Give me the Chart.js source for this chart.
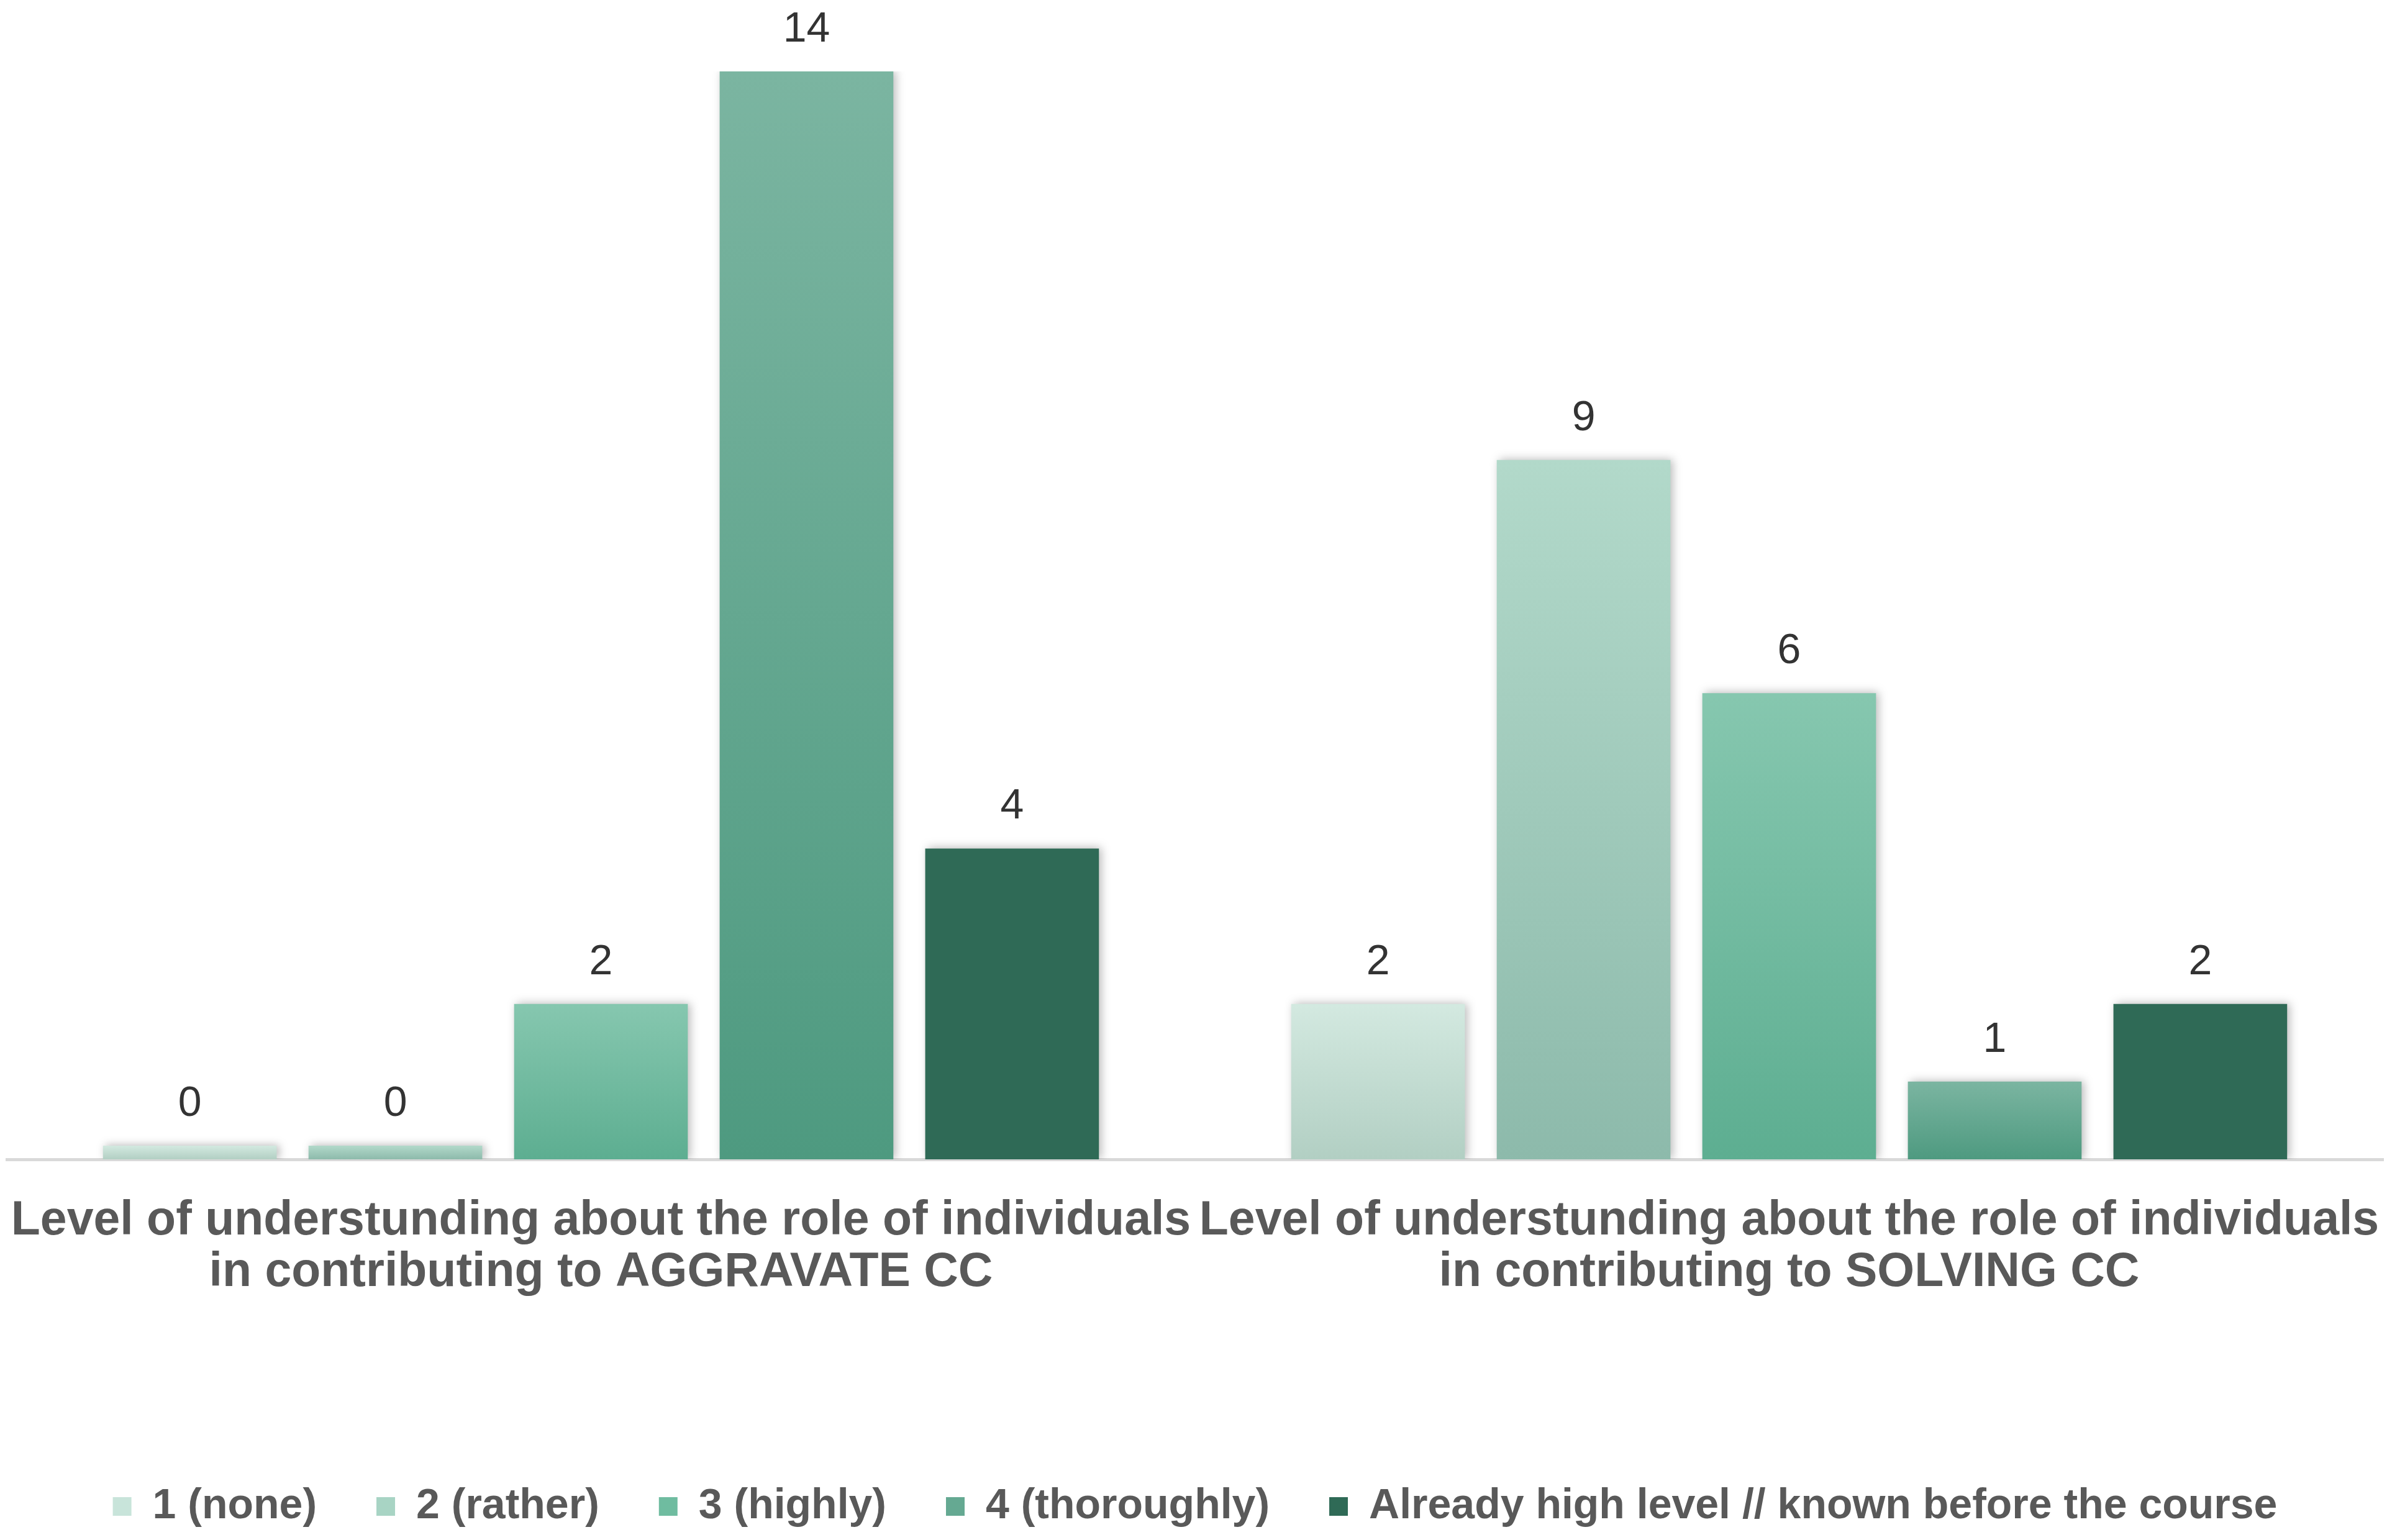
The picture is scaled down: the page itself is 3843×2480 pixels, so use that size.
<!DOCTYPE html>
<html lang="en">
<head>
    <meta charset="UTF-8">
    <title>Understanding of individuals' role in CC</title>
    <script src="https://cdn.jsdelivr.net/npm/chart.js"></script>
    <style>
        * { box-sizing: border-box; margin: 0; padding: 0; }
        body { background: #fff; }
        .wrap { width: 3843px; height: 2480px; position: relative; }
    </style>
</head>
<body>
<div class="wrap"><canvas id="chart"></canvas></div>
<script>
    // categories (two lines each, as in the original)
    const categories = [
        ['Level of understunding about the role of individuals', 'in contributing to AGGRAVATE CC'],
        ['Level of understunding about the role of individuals', 'in contributing to SOLVING CC']
    ];
    const seriesNames = ['1 (none)', '2 (rather)', '3 (highly)', '4 (thoroughly)', 'Already high level // known before the course'];
    const aggravateValues = [0, 0, 2, 14, 4];
    const solvingValues = [2, 9, 6, 1, 2];

    // bar gradient colours, top -> bottom
    const topColors = ['#d3e9e0', '#b2d9ca', '#86c7af', '#7bb5a1', '#2f6a56'];
    const bottomColors = ['#b2cfc3', '#8dbaab', '#5dae91', '#4e9a80', '#2f6a56'];
    const legendColors = ['#c8e4da', '#a8d4c4', '#6fbca0', '#65a992', '#2f6a56'];

    const FONT = "'Liberation Sans', Arial, sans-serif";

    function barFill(i) {
        return function (ctx) {
            const chart = ctx.chart;
            const y = chart.scales.y;
            if (!chart.chartArea || !y || ctx.raw === undefined) return topColors[i];
            const y0 = y.getPixelForValue(0);
            let y1 = y.getPixelForValue(ctx.raw);
            if (y0 - y1 < 22) y1 = y0 - 22;
            const g = chart.ctx.createLinearGradient(0, y1, 0, y0);
            g.addColorStop(0, topColors[i]);
            g.addColorStop(1, bottomColors[i]);
            return g;
        };
    }

    const datasets = seriesNames.map((name, i) => ({
        label: name,
        data: [aggravateValues[i], solvingValues[i]],
        backgroundColor: barFill(i),
        borderWidth: 0,
        minBarLength: 22,
        categoryPercentage: 0.865,
        barPercentage: 0.845
    }));

    // soft shadow under bars + value labels on top
    const barDecor = {
        id: 'barDecor',
        beforeDatasetsDraw(chart) {
            const c = chart.ctx;
            c.save();
            c.shadowColor = 'rgba(0,0,0,0.28)';
            c.shadowBlur = 14;
            c.shadowOffsetX = 4;
            c.shadowOffsetY = -1;
        },
        afterDatasetsDraw(chart) {
            const c = chart.ctx;
            c.restore();
            c.save();
            c.font = '68px ' + FONT;
            c.fillStyle = '#333333';
            c.textAlign = 'center';
            c.textBaseline = 'alphabetic';
            chart.data.datasets.forEach((ds, i) => {
                chart.getDatasetMeta(i).data.forEach((bar, j) => {
                    c.fillText(String(ds.data[j]), bar.x, bar.y - 48);
                });
            });
            c.restore();
        }
    };

    new Chart(document.getElementById('chart'), {
        type: 'bar',
        data: { labels: categories, datasets: datasets },
        options: {
            responsive: true,
            maintainAspectRatio: false,
            devicePixelRatio: 1,
            animation: false,
            layout: { padding: { top: 115, left: 11, right: 6, bottom: 10 } },
            scales: {
                x: {
                    grid: { display: false },
                    border: { color: '#d9d9d9', width: 5 },
                    ticks: {
                        autoSkip: false,
                        maxRotation: 0,
                        minRotation: 0,
                        padding: 50,
                        color: '#595959',
                        font: { family: FONT, size: 77, weight: 'bold', lineHeight: 1.08 }
                    },
                    afterFit(scale) {
                        scale.height = 429;
                        // wide labels may touch, keep the plot full width
                        scale.paddingLeft = 0;
                        scale.paddingRight = 0;
                    }
                },
                y: {
                    display: false,
                    min: 0,
                    max: 14
                }
            },
            plugins: {
                tooltip: { enabled: false },
                legend: {
                    position: 'bottom',
                    labels: {
                        boxWidth: 30,
                        boxHeight: 30,
                        padding: 96,
                        color: '#595959',
                        font: { family: FONT, size: 68, weight: 'bold' },
                        generateLabels(chart) {
                            return chart.data.datasets.map((ds, i) => ({
                                text: ds.label,
                                fillStyle: legendColors[i],
                                strokeStyle: legendColors[i],
                                lineWidth: 0,
                                fontColor: '#595959',
                                hidden: false,
                                datasetIndex: i
                            }));
                        }
                    }
                }
            }
        },
        plugins: [barDecor]
    });
</script>
</body>
</html>
